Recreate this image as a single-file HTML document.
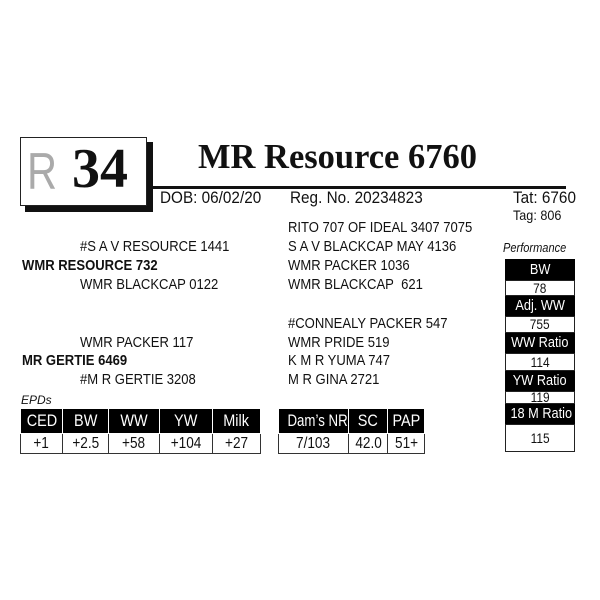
<!DOCTYPE html>
<html><head><style>
body{margin:0;width:600px;height:600px;background:#fff;position:relative;font-family:"Liberation Sans",sans-serif;color:#111;overflow:hidden}
.a{position:absolute;white-space:nowrap;transform-origin:left center}
.t{font-size:15px;transform:scaleX(.87)}
.b{font-weight:bold}
.c{display:inline-block;transform:scaleX(.85);white-space:nowrap}
.hb{position:absolute;background:#000;color:#fff;text-align:center;font-size:15px;box-sizing:border-box}
.vb{position:absolute;background:#fff;color:#111;text-align:center;font-size:14px;border:1px solid #222;box-sizing:border-box}
table{position:absolute;border-collapse:collapse;font-size:17px;table-layout:fixed}
td{border:1px solid #333;text-align:center;padding:0;white-space:nowrap;overflow:hidden}
tr.h td{background:#000;color:#fff;border-color:#fff;height:24px}
tr.v td{height:19px;font-size:16px}
</style></head><body>
<div class="a" style="left:25px;top:142px;width:128px;height:70px;background:#111"></div>
<div class="a" style="left:20px;top:137px;width:127px;height:69px;background:#fff;border:1px solid #222;box-sizing:border-box"></div>
<div class="a" style="left:27px;top:142px;font-size:52px;color:#aaa;line-height:60px;transform:scaleX(.8)">R</div>
<div class="a b" style="left:72px;top:136px;font-family:'Liberation Serif',serif;font-size:56px;line-height:66px">34</div>
<div class="a b" style="left:198px;top:137px;font-family:'Liberation Serif',serif;font-size:35px;line-height:40px;transform:scaleX(.985)">MR Resource 6760</div>
<div class="a" style="left:150px;top:186px;width:416px;height:3px;background:#111"></div>
<div class="a" style="left:160px;top:188px;font-size:17px;transform:scaleX(.9)">DOB: 06/02/20</div>
<div class="a" style="left:290px;top:188px;font-size:17px;transform:scaleX(.9)">Reg. No. 20234823</div>
<div class="a" style="left:513px;top:188px;font-size:17px;transform:scaleX(.9)">Tat: 6760</div>
<div class="a" style="left:513px;top:207px;font-size:14px;transform:scaleX(.9)">Tag: 806</div>

<div class="a t" style="left:288px;top:219px">RITO 707 OF IDEAL 3407 7075</div>
<div class="a t" style="left:80px;top:238px">#S A V RESOURCE 1441</div>
<div class="a t" style="left:288px;top:238px">S A V BLACKCAP MAY 4136</div>
<div class="a t b" style="left:22px;top:257px">WMR RESOURCE 732</div>
<div class="a t" style="left:288px;top:257px">WMR PACKER 1036</div>
<div class="a t" style="left:80px;top:276px">WMR BLACKCAP 0122</div>
<div class="a t" style="left:288px;top:276px">WMR BLACKCAP&nbsp; 621</div>
<div class="a t" style="left:288px;top:315px">#CONNEALY PACKER 547</div>
<div class="a t" style="left:80px;top:334px">WMR PACKER 117</div>
<div class="a t" style="left:288px;top:334px">WMR PRIDE 519</div>
<div class="a t b" style="left:22px;top:352px">MR GERTIE 6469</div>
<div class="a t" style="left:288px;top:352px">K M R YUMA 747</div>
<div class="a t" style="left:80px;top:371px">#M R GERTIE 3208</div>
<div class="a t" style="left:288px;top:371px">M R GINA 2721</div>

<div class="a" style="left:503px;top:240px;font-size:13px;font-style:italic;transform:scaleX(.85)">Performance</div>
<div class="hb" style="left:505px;top:259px;width:70px;height:21px;line-height:21px"><span class="c">BW</span></div>
<div class="vb" style="left:505px;top:280px;width:70px;height:16px;line-height:14px"><span class="c">78</span></div>
<div class="hb" style="left:505px;top:296px;width:70px;height:20px;line-height:20px"><span class="c">Adj. WW</span></div>
<div class="vb" style="left:505px;top:316px;width:70px;height:17px;line-height:15px"><span class="c">755</span></div>
<div class="hb" style="left:505px;top:333px;width:70px;height:20px;line-height:20px"><span class="c">WW Ratio</span></div>
<div class="vb" style="left:505px;top:353px;width:70px;height:18px;line-height:16px"><span class="c">114</span></div>
<div class="hb" style="left:505px;top:371px;width:70px;height:20px;line-height:20px"><span class="c">YW Ratio</span></div>
<div class="vb" style="left:505px;top:391px;width:70px;height:13px;line-height:11px"><span class="c">119</span></div>
<div class="hb" style="left:505px;top:404px;width:70px;height:20px;line-height:20px"><span class="c">18 M Ratio</span></div>
<div class="vb" style="left:505px;top:424px;width:70px;height:28px;line-height:26px"><span class="c">115</span></div>

<div class="a" style="left:21px;top:393px;font-size:12px;font-style:italic">EPDs</div>
<table style="left:20px;top:408px;width:240px">
<tr class="h"><td style="width:41px"><span class="c">CED</span></td><td style="width:45px"><span class="c">BW</span></td><td style="width:50px"><span class="c">WW</span></td><td style="width:52px"><span class="c">YW</span></td><td style="width:47px"><span class="c">Milk</span></td></tr>
<tr class="v"><td><span class="c">+1</span></td><td><span class="c">+2.5</span></td><td><span class="c">+58</span></td><td><span class="c">+104</span></td><td><span class="c">+27</span></td></tr>
</table>
<table style="left:278px;top:408px;width:147px">
<tr class="h"><td style="width:68px"><span class="c" style="transform:scaleX(.78)">Dam’s NR</span></td><td style="width:38px"><span class="c">SC</span></td><td style="width:35px"><span class="c">PAP</span></td></tr>
<tr class="v"><td><span class="c">7/103</span></td><td><span class="c">42.0</span></td><td><span class="c">51+</span></td></tr>
</table>
</body></html>
